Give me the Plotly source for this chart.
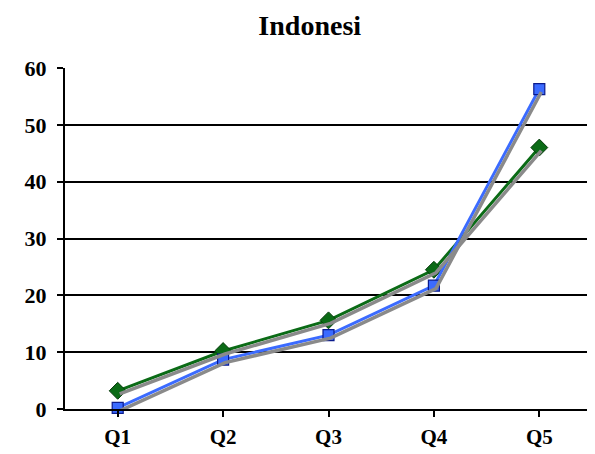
import plotly.graph_objects as go

categories = ["Q1", "Q2", "Q3", "Q4", "Q5"]
green_vals = [3.2, 10.2, 15.6, 24.5, 46.0]
blue_vals = [0.2, 8.7, 13.0, 21.7, 56.3]
y_ticks = [0, 10, 20, 30, 40, 50, 60]

font = "Liberation Serif, Times New Roman, serif"
xi = list(range(len(categories)))

# plot area approx 527 x 341 px
px_x = 527 / 5.0
px_y = 341 / 60.0
dx = 2 / px_x
dy = 3 / px_y

fig = go.Figure()
# shadows
for vals in (green_vals, blue_vals):
    fig.add_trace(go.Scatter(x=xi, y=vals, mode="lines", xaxis="x2", yaxis="y2",
                             line=dict(color="#8a8a8a", width=3.5), hoverinfo="skip",
                             showlegend=False, cliponaxis=False))
fig.add_trace(go.Scatter(x=xi, y=green_vals, mode="lines+markers",
                         line=dict(color="#0b6b16", width=3),
                         marker=dict(symbol="diamond", size=13, color="#0b6b16",
                                     line=dict(color="#053a0a", width=1)),
                         showlegend=False, cliponaxis=False))
fig.add_trace(go.Scatter(x=xi, y=blue_vals, mode="lines+markers",
                         line=dict(color="#3b6bff", width=3),
                         marker=dict(symbol="square", size=11, color="#3b6bff",
                                     line=dict(color="#0a1a8c", width=1.2)),
                         showlegend=False, cliponaxis=False))

fig.update_layout(
    width=587, height=446,
    margin=dict(l=57, r=3, t=60, b=45),
    paper_bgcolor="white", plot_bgcolor="white",
    title=dict(text="<b>Indonesi</b>", x=0.514, xanchor="center", y=0.962, yanchor="middle",
               font=dict(family=font, size=28, color="black")),
    xaxis=dict(range=[-0.5, 4.5], tickmode="array", tickvals=xi,
               ticktext=[f"<b>{c}</b>" for c in categories],
               showgrid=False, zeroline=False, showline=True, linecolor="black", linewidth=2,
               ticks="outside", tickson="boundaries", ticklen=6, tickcolor="black", tickwidth=1.5,
               ticklabelstandoff=2,
               tickfont=dict(family=font, size=21, color="black")),
    yaxis=dict(range=[0, 60], tickmode="array", tickvals=y_ticks,
               ticktext=[f"<b>{v}</b>" for v in y_ticks],
               showgrid=True, gridcolor="black", gridwidth=1.5, zeroline=False,
               showline=True, linecolor="black", linewidth=2,
               ticks="outside", ticklen=6, tickcolor="black", tickwidth=1.5,
               ticklabelstandoff=6,
               tickfont=dict(family=font, size=22, color="black")),
    xaxis2=dict(range=[-0.5 - dx, 4.5 - dx], overlaying="x", visible=False),
    yaxis2=dict(range=[0 + dy, 60 + dy], overlaying="y", visible=False),
    shapes=[dict(type="line", xref="paper", yref="paper", x0=1, x1=1, y0=0, y1=1.0,
                 line=dict(color="#808080", width=2))],
)
fig.write_html("out.html")
